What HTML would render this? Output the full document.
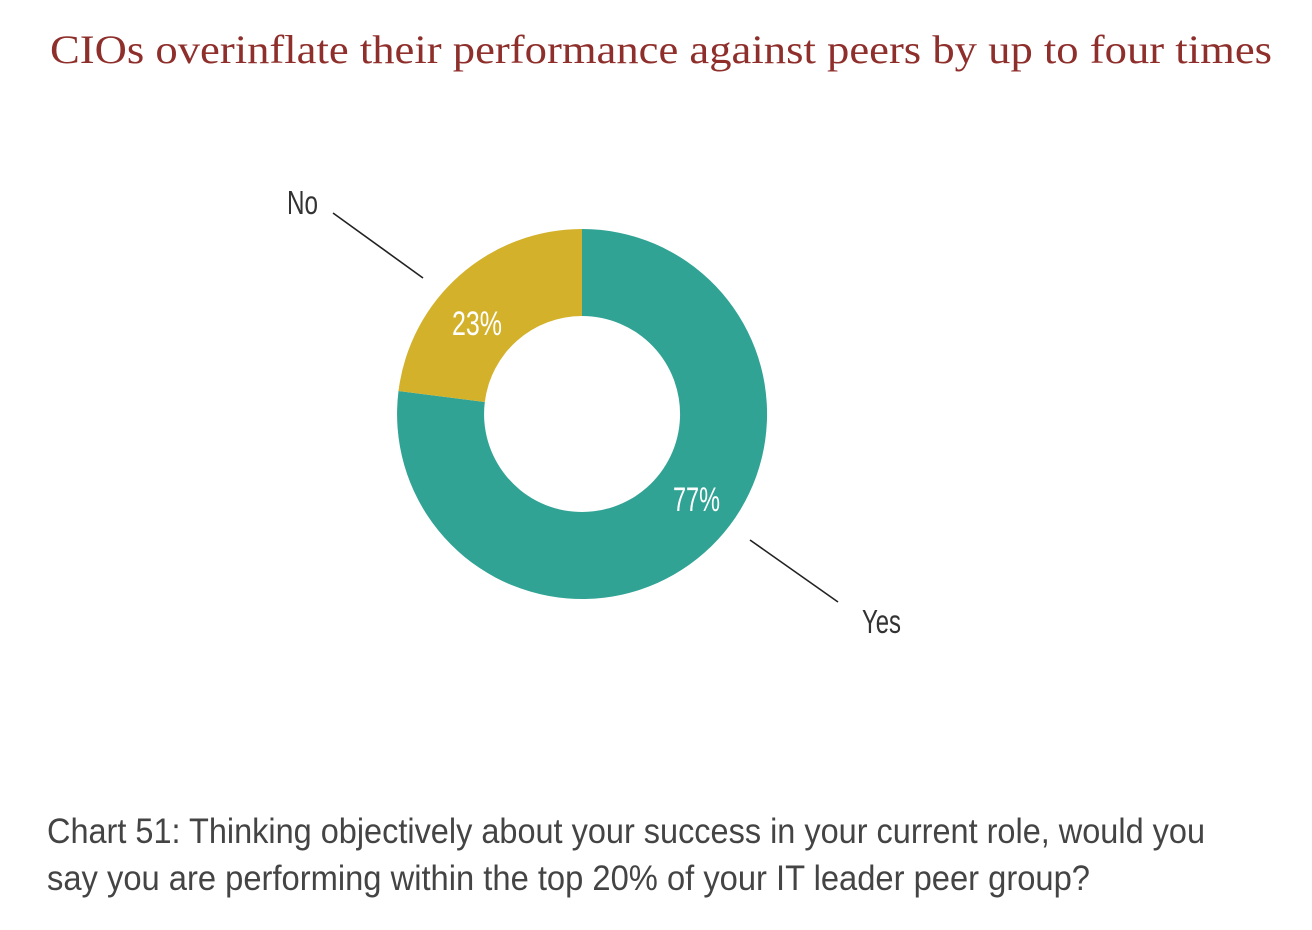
<!DOCTYPE html>
<html><head><meta charset="utf-8"><style>
html,body{margin:0;padding:0;background:#fff;}
svg{display:block;}
.n{font-family:"Liberation Sans Narrow","Liberation Sans",sans-serif;}
</style></head><body>
<svg width="1312" height="930" viewBox="0 0 1312 930" xmlns="http://www.w3.org/2000/svg">
<rect width="1312" height="930" fill="#fff"/>
<text x="50" y="63" font-family="Liberation Serif, serif" font-size="40" fill="#8e2f2c" textLength="1222" lengthAdjust="spacingAndGlyphs">CIOs overinflate their performance against peers by up to four times</text>
<path d="M582,229 A185,185 0 1 1 398.5,391 L484.8,402 A98,98 0 1 0 582,316 Z" fill="#31a395"/>
<path d="M582,229 L582,316 A98,98 0 0 0 484.8,402 L398.5,391 A185,185 0 0 1 582,229 Z" fill="#d3b12b"/>
<text class="n" x="452" y="335" font-size="34" fill="#fff" textLength="50" lengthAdjust="spacingAndGlyphs">23%</text>
<text class="n" x="673" y="511" font-size="34" fill="#fff" textLength="47" lengthAdjust="spacingAndGlyphs">77%</text>
<text class="n" x="287" y="214" font-size="33" fill="#333" textLength="31" lengthAdjust="spacingAndGlyphs">No</text>
<text class="n" x="862" y="633" font-size="33" fill="#333" textLength="39" lengthAdjust="spacingAndGlyphs">Yes</text>
<line x1="333" y1="213" x2="423" y2="278" stroke="#222" stroke-width="1.6"/>
<line x1="750" y1="540" x2="838" y2="602" stroke="#222" stroke-width="1.6"/>
<text class="n" x="47" y="843" font-size="35" fill="#444" textLength="1158" lengthAdjust="spacingAndGlyphs">Chart 51: Thinking objectively about your success in your current role, would you</text>
<text class="n" x="47" y="890" font-size="35" fill="#444" textLength="1043" lengthAdjust="spacingAndGlyphs">say you are performing within the top 20% of your IT leader peer group?</text>
</svg>
</body></html>
